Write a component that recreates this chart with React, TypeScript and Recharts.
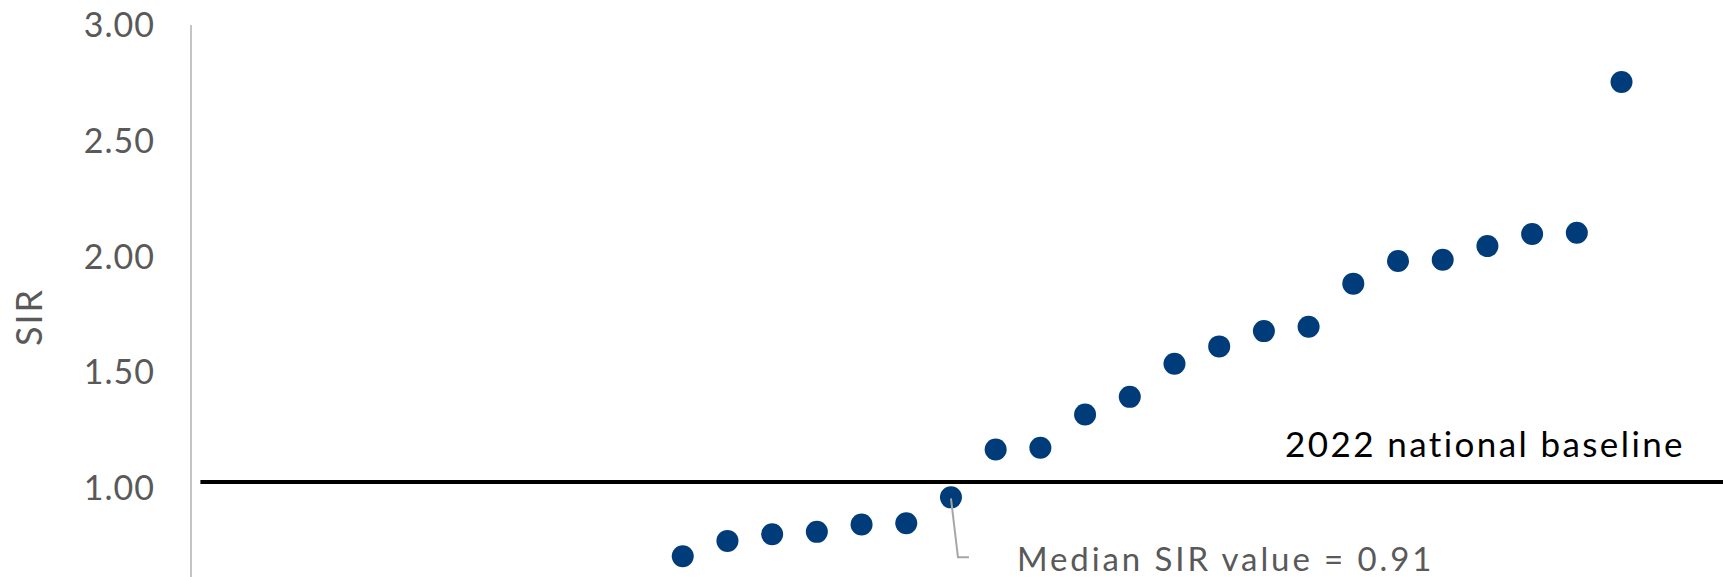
import { ScatterChart, Scatter, XAxis, YAxis, ReferenceLine } from 'recharts';

// rank positions of the hospitals (sorted ascending by SIR)
const ranks = [11, 12, 13, 14, 15, 16, 17, 18, 19, 20, 21, 22, 23, 24, 25, 26, 27, 28, 29, 30, 31, 32];
const sirValues = [
    0.706, 0.772, 0.801, 0.811, 0.843, 0.848, 0.96, 1.167, 1.174, 1.318, 1.394,
    1.537, 1.612, 1.678, 1.697, 1.883, 1.981, 1.986, 2.045, 2.097, 2.103, 2.754,
];
const yTicks = [1, 1.5, 2, 2.5, 3];
const BASELINE = 1.026;
const MEDIAN_RANK = 17;
const MEDIAN_LABEL = 'Median SIR value = 0.91';
const BASELINE_LABEL = '2022 national baseline';

const X_MAX = 34.27;
const Y_MIN = 0.616;
const DOT = '#003B7A';
const GREY = '#595959';
const FONT = 'Lato, "Open Sans", sans-serif';

const points = ranks.map((x, i) => ({ x, y: sirValues[i] }));
const medianPoint = points.filter((p) => p.x === MEDIAN_RANK);

function Dot({ cx, cy }: any) {
    return <circle cx={cx} cy={cy} r={11} fill={DOT} />;
}

function MedianCallout({ cx, cy }: any) {
    return (
        <g>
            <polyline
                points={`${cx},${cy + 1} ${cx + 7},${cy + 60} ${cx + 18},${cy + 60}`}
                fill="none"
                stroke="#a6a6a6"
                strokeWidth={2}
            />
            <text x={cx + 66} y={cy + 74} fill={GREY} fontSize={33} letterSpacing={2.9} fontFamily={FONT}>
                {MEDIAN_LABEL}
            </text>
        </g>
    );
}

function BaselineLabel({ viewBox }: any) {
    const right = viewBox.x + viewBox.width - 38;
    return (
        <text x={right} y={viewBox.y - 25} textAnchor="end" fill="#000" fontSize={35} letterSpacing={2.4} fontFamily={FONT}>
            {BASELINE_LABEL}
        </text>
    );
}

function AxisTitle() {
    return (
        <text x={42} y={317} transform="rotate(-90 42 317)" textAnchor="middle" fill={GREY} fontSize={36} letterSpacing={2} fontFamily={FONT}>
            SIR
        </text>
    );
}

export default function App() {
    return (
        <div style={{ position: 'absolute', left: 0, top: 0, width: 1723, height: 577, background: '#fff' }}>
            <ScatterChart width={1723} height={577} margin={{ top: 25, right: 0, bottom: 0, left: 0 }}>
                <XAxis type="number" dataKey="x" domain={[0, X_MAX]} hide allowDataOverflow />
                <YAxis
                    type="number"
                    dataKey="y"
                    width={191}
                    domain={[Y_MIN, 3]}
                    ticks={yTicks}
                    allowDataOverflow
                    axisLine={{ stroke: '#c4c4c4', strokeWidth: 2 }}
                    tickLine={false}
                    tickSize={0}
                    tickMargin={36}
                    tick={{ fill: GREY, fontSize: 34, fontFamily: FONT, letterSpacing: 1 }}
                    tickFormatter={(v: number) => v.toFixed(2)}
                    label={<AxisTitle />}
                />
                <ReferenceLine
                    segment={[{ x: 0.21, y: BASELINE }, { x: X_MAX, y: BASELINE }]}
                    stroke="#000"
                    strokeWidth={4}
                    label={<BaselineLabel />}
                />
                <Scatter data={points} shape={<Dot />} isAnimationActive={false} />
                <Scatter data={medianPoint} shape={<MedianCallout />} isAnimationActive={false} />
            </ScatterChart>
        </div>
    );
}
